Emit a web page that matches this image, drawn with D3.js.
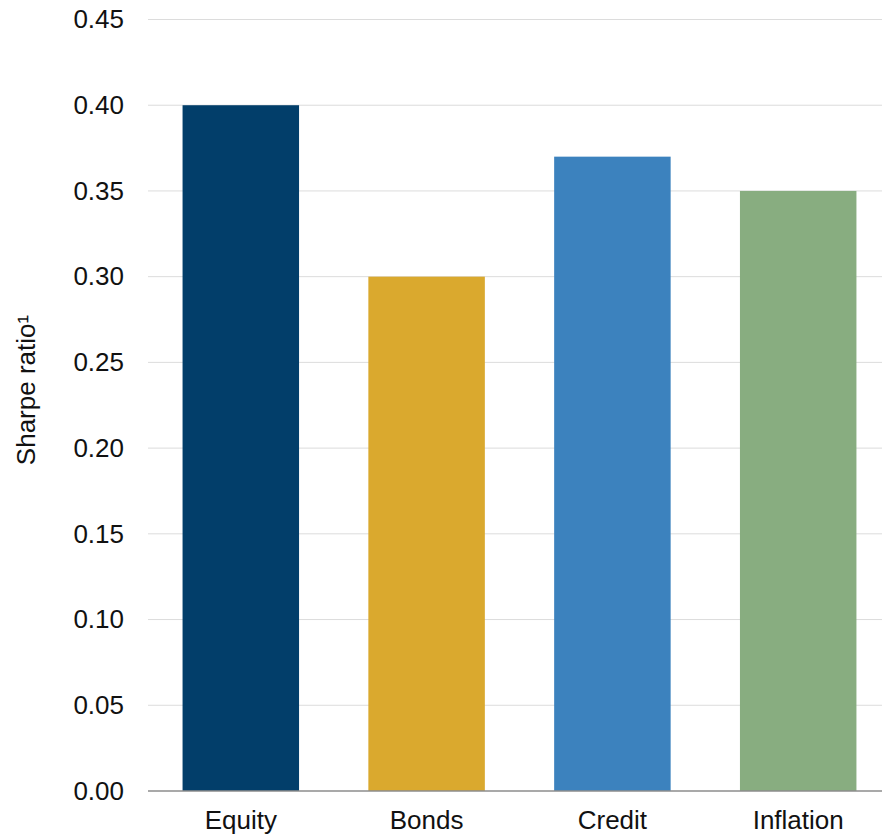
<!DOCTYPE html>
<html>
<head>
<meta charset="utf-8">
<script src="https://cdn.jsdelivr.net/npm/d3@7"></script>
<style>
  body { margin: 0; background: #fff; }
  text { font-family: "Liberation Sans", Arial, sans-serif; fill: #111; }
</style>
</head>
<body>
<svg id="chart" width="882" height="836"></svg>
<script>
// data
const categories = ['Equity', 'Bonds', 'Credit', 'Inflation'];
const values = [0.40, 0.30, 0.37, 0.35];
const colors = ['#023e6a', '#daa92e', '#3c82be', '#88ad80'];
const yTicks = [0, 0.05, 0.10, 0.15, 0.20, 0.25, 0.30, 0.35, 0.40, 0.45];

const margin = { top: 19.5, right: -9, bottom: 45, left: 148 };
const width = 882, height = 836;

const svg = d3.select('#chart');

const x = d3.scaleBand()
  .domain(categories)
  .range([margin.left, width - margin.right])
  .paddingInner(0.373)
  .paddingOuter(0.186);

const y = d3.scaleLinear()
  .domain([0, 0.45])
  .range([height - margin.bottom, margin.top]);

// grid lines
svg.append('g')
  .selectAll('line')
  .data(yTicks.slice(1))
  .join('line')
  .attr('x1', margin.left)
  .attr('x2', width)
  .attr('y1', d => y(d))
  .attr('y2', d => y(d))
  .attr('stroke', '#dcdcdc')
  .attr('stroke-width', 1);

// bars
svg.append('g')
  .selectAll('rect')
  .data(categories)
  .join('rect')
  .attr('x', d => x(d))
  .attr('width', x.bandwidth())
  .attr('y', (d, i) => y(values[i]))
  .attr('height', (d, i) => y(0) - y(values[i]))
  .attr('fill', (d, i) => colors[i]);

// y axis (labels only)
const yAxis = d3.axisLeft(y).tickValues(yTicks).tickFormat(d3.format('.2f')).tickSize(0).tickPadding(24);
svg.append('g')
  .attr('transform', `translate(${margin.left}, 0)`)
  .call(yAxis)
  .call(g => g.select('.domain').remove())
  .selectAll('text')
  .style('font-size', '26px')
  .attr('fill', '#111');

// x axis
const xAxis = d3.axisBottom(x).tickSize(0).tickPadding(20);
svg.append('g')
  .attr('transform', `translate(0, ${y(0)})`)
  .call(xAxis)
  .call(g => g.select('.domain').attr('d', `M${margin.left},0H${width}`).attr('stroke', '#8c8c8c').attr('stroke-width', 1.5))
  .selectAll('text')
  .style('font-size', '26px')
  .attr('fill', '#111');

// y title
svg.append('text')
  .attr('transform', `translate(35, 390) rotate(-90)`)
  .attr('text-anchor', 'middle')
  .style('font-size', '26px')
  .text('Sharpe ratio¹');
</script>
</body>
</html>
